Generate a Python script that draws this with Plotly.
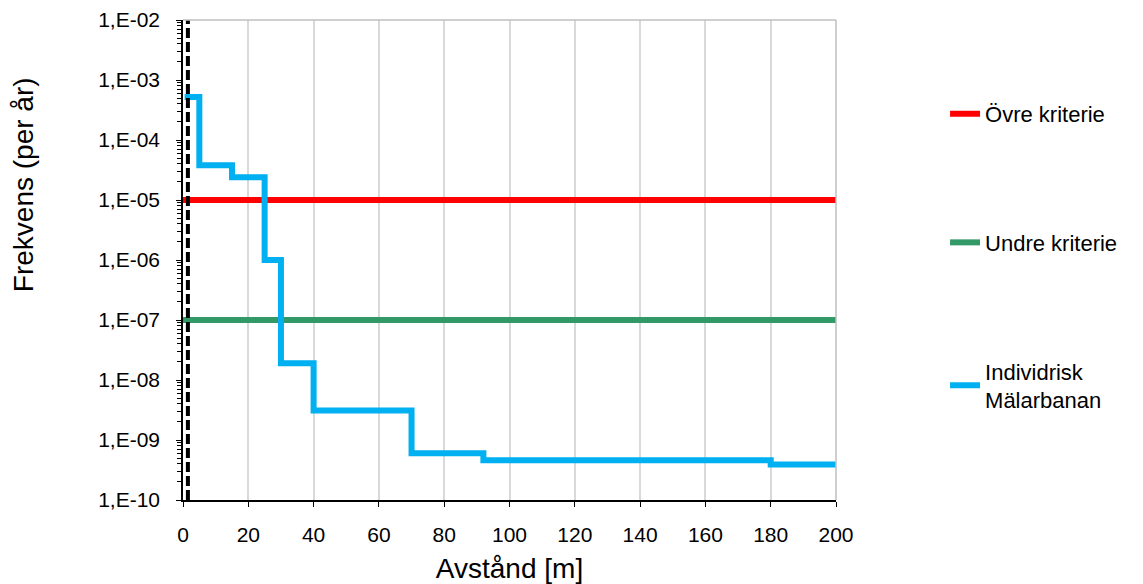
import plotly.graph_objects as go

# Data
dist = [0.5, 5, 15, 25, 30, 40, 70, 92, 180, 200]
risk = [5.2e-4, 3.8e-5, 2.4e-5, 1.0e-6, 1.9e-8, 3.1e-9, 6.0e-10, 4.6e-10, 3.9e-10, 3.6e-10]
crit_x = [0, 200]
ovre = [1e-5, 1e-5]
undre = [1e-7, 1e-7]
ref_x = [1.5, 1.5]
ref_y = [1e-10, 1e-2]
ytick_vals = [1e-10, 1e-9, 1e-8, 1e-7, 1e-6, 1e-5, 1e-4, 1e-3, 1e-2]
ytick_text = ["1,E-10", "1,E-09", "1,E-08", "1,E-07", "1,E-06", "1,E-05", "1,E-04", "1,E-03", "1,E-02"]
xtick_vals = [0, 20, 40, 60, 80, 100, 120, 140, 160, 180, 200]

font = "Liberation Sans, Arial, sans-serif"

fig = go.Figure()
fig.add_trace(go.Scatter(x=crit_x, y=ovre, mode="lines", name="Övre kriterie",
                         line=dict(color="#FF0000", width=6), legendgroup="a"))
fig.add_trace(go.Scatter(x=crit_x, y=undre, mode="lines", name="Undre kriterie",
                         line=dict(color="#339966", width=6), legendgroup="b"))
fig.add_trace(go.Scatter(x=dist, y=risk, mode="lines", name="Individrisk<br>Mälarbanan",
                         line=dict(color="#00B0F0", width=6, shape="hv"), legendgroup="c"))
fig.add_trace(go.Scatter(x=ref_x, y=ref_y, mode="lines", showlegend=False,
                         line=dict(color="black", width=4, dash="10px,4px")))

fig.update_layout(
    width=1143, height=584,
    margin=dict(l=183, r=307, t=20, b=84),
    paper_bgcolor="white", plot_bgcolor="white",
    font=dict(family=font, size=21, color="black"),
    legend=dict(x=1.167, y=0.848, xanchor="left", yanchor="top",
                font=dict(size=22), tracegroupgap=97, bgcolor="rgba(0,0,0,0)"),
    shapes=[dict(type="line", xref="paper", yref="paper", x0=0, x1=1, y0=1, y1=1,
                 line=dict(color="#BFBFBF", width=1.5)),
            dict(type="line", xref="paper", yref="paper", x0=1, x1=1, y0=0, y1=1,
                 line=dict(color="#BFBFBF", width=1.5))],
    annotations=[dict(text="Frekvens (per år)", textangle=-90, xref="paper", yref="paper",
                      x=-0.245, y=0.656, xanchor="center", yanchor="middle",
                      showarrow=False, font=dict(size=28))],
)
fig.update_xaxes(range=[0, 200], tickvals=xtick_vals, showgrid=True, gridcolor="#D9D9D9",
                 gridwidth=1.5, zeroline=False, showline=True, linecolor="black", linewidth=1.5,
                 ticks="outside", ticklen=5, tickcolor="black", ticklabelstandoff=10,
                 automargin=False,
                 title=dict(text="Avstånd [m]", font=dict(size=28), standoff=16))
fig.update_yaxes(type="log", range=[-10, -2], tickvals=ytick_vals, ticktext=ytick_text,
                 showgrid=False, zeroline=False, showline=True, linecolor="black", linewidth=1.5,
                 ticks="outside", ticklen=5, tickcolor="black", ticklabelstandoff=12,
                 automargin=False,
                 minor=dict(ticks="outside", ticklen=4, tickcolor="black", dtick="D1", showgrid=False))

fig.write_html("out.html")
